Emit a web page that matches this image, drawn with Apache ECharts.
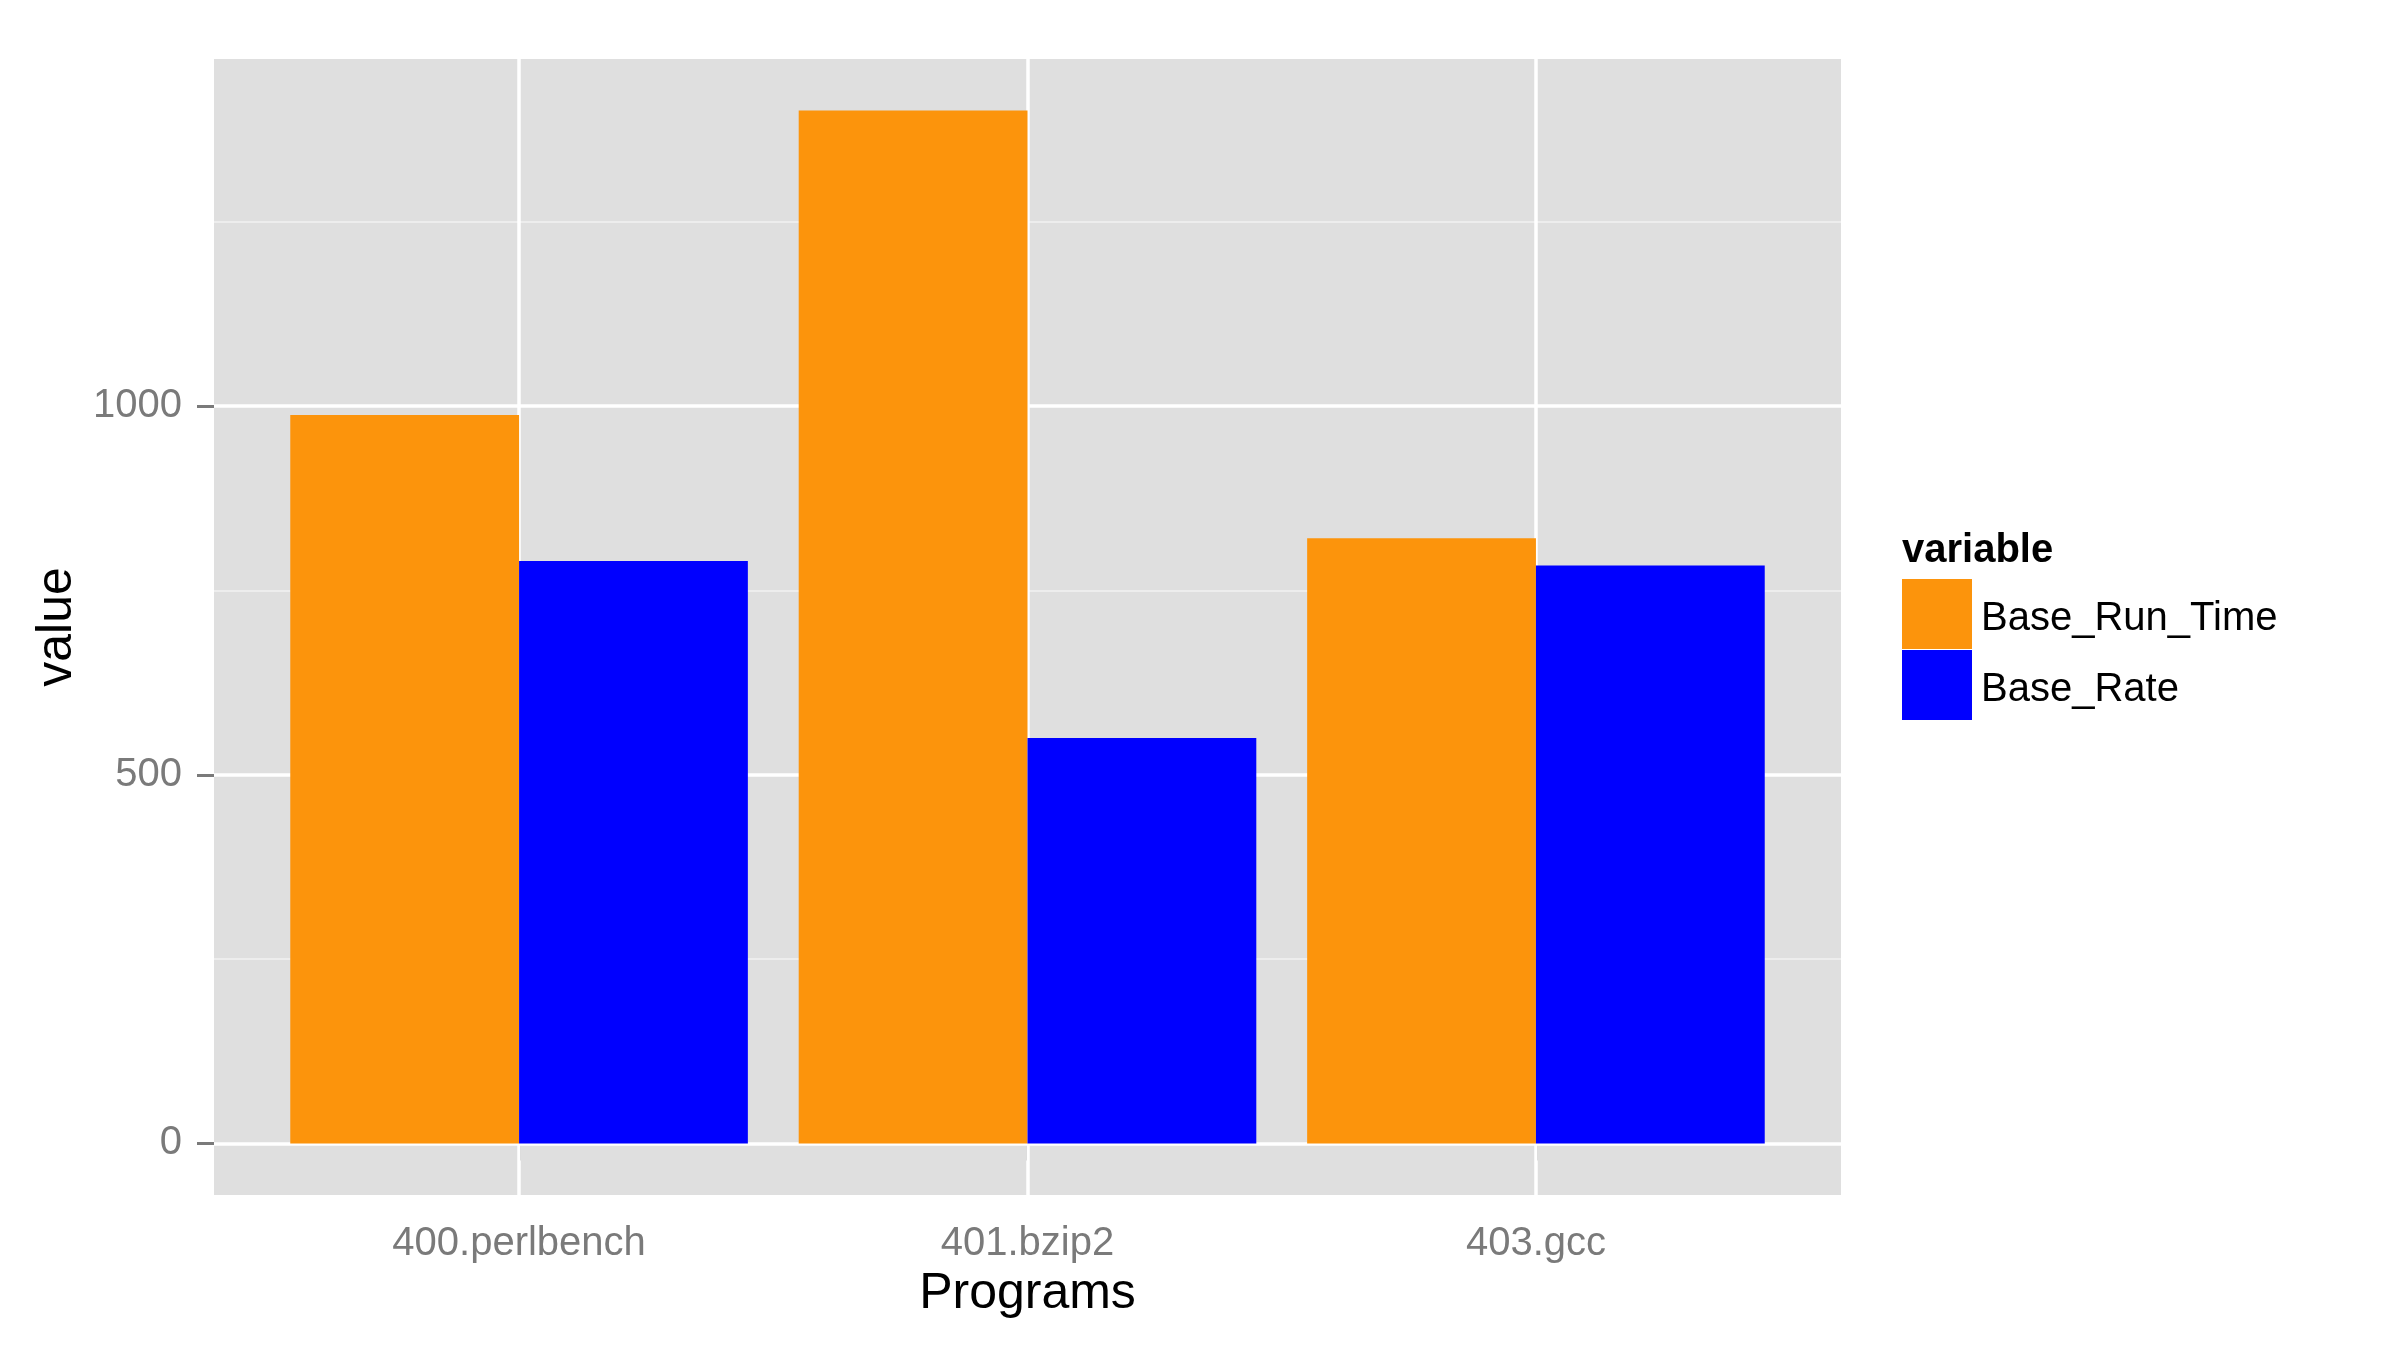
<!DOCTYPE html>
<html>
<head>
<meta charset="utf-8">
<script src="https://cdn.jsdelivr.net/npm/echarts@6/dist/echarts.min.js"></script>
<style>html,body{margin:0;padding:0;background:#fff}#c{width:2400px;height:1350px}</style>
</head>
<body>
<div id="c"></div>
<script>
const categories = ['400.perlbench', '401.bzip2', '403.gcc'];
const seriesNames = ['Base_Run_Time', 'Base_Rate'];
const baseRunTime = [988, 1401, 821];
const baseRate = [790, 550, 784];
const yTicks = [0, 500, 1000];
const yMinorTicks = [250, 750, 1250];

const catPos = categories.map((c, i) => i + 1);
const FONT = 'Liberation Sans';
const chart = echarts.init(document.getElementById('c'));

chart.setOption({
  backgroundColor: '#ffffff',
  animation: false,
  textStyle: { fontFamily: FONT },
  grid: {
    left: 214, top: 59, width: 1627, height: 1136,
    show: true, backgroundColor: '#DFDFDF', borderWidth: 0
  },
  xAxis: {
    type: 'value', min: 0.4, max: 3.6,
    name: 'Programs', nameLocation: 'middle', nameGap: 68,
    nameTextStyle: { fontSize: 50, color: '#000', fontFamily: FONT },
    axisLine: { show: false },
    splitLine: { show: false },
    axisTick: { show: true, customValues: catPos, length: 17, lineStyle: { color: '#7a7a7a', width: 3 } },
    axisLabel: {
      customValues: catPos, margin: 29, fontSize: 40, color: '#7a7a7a', fontFamily: FONT,
      formatter: v => categories[Math.round(v) - 1] || ''
    }
  },
  yAxis: {
    type: 'value', min: -70, max: 1471,
    name: 'value', nameLocation: 'middle', nameGap: 126, nameRotate: 90,
    nameTextStyle: { fontSize: 50, color: '#000', fontFamily: FONT },
    axisLine: { show: false },
    splitLine: { show: false },
    axisTick: { show: true, customValues: yTicks, length: 17, lineStyle: { color: '#7a7a7a', width: 3 } },
    axisLabel: {
      customValues: yTicks, margin: 32, fontSize: 40, color: '#7a7a7a', fontFamily: FONT,
      formatter: v => String(v)
    }
  },
  legend: {
    orient: 'vertical', left: 1902, top: 579, padding: 0,
    icon: 'rect', itemWidth: 70, itemHeight: 70, itemGap: 1,
    formatter: '{t|{name}}',
    textStyle: {
      fontSize: 40, color: '#000', fontFamily: FONT,
      rich: { t: { fontSize: 40, color: '#000', fontFamily: FONT, padding: [9, 0, 0, 4] } }
    },
    data: seriesNames
  },
  graphic: [{
    type: 'text', left: 1902, top: 531,
    style: { text: 'variable', font: 'bold 40px "Liberation Sans"', fill: '#000' }
  }],
  series: [
    {
      type: 'line', data: [], silent: true, z: 1,
      markLine: {
        silent: true, symbol: 'none', z: 1, animation: false,
        label: { show: false },
        data: [
          ...yMinorTicks.map(v => ({ yAxis: v, lineStyle: { color: '#F2F2F2', width: 1.5, type: 'solid' } })),
          ...yTicks.map(v => ({ yAxis: v, lineStyle: { color: '#FFFFFF', width: 3.5, type: 'solid' } })),
          ...catPos.map(v => ({ xAxis: v, lineStyle: { color: '#FFFFFF', width: 3.5, type: 'solid' } }))
        ]
      }
    },
    {
      name: seriesNames[0], type: 'bar', z: 2,
      barGap: '0%', barCategoryGap: '10%',
      itemStyle: { color: '#FC940C' },
      data: baseRunTime.map((v, i) => [catPos[i], v])
    },
    {
      name: seriesNames[1], type: 'bar', z: 2,
      barGap: '0%', barCategoryGap: '10%',
      itemStyle: { color: '#0000FF' },
      data: baseRate.map((v, i) => [catPos[i], v])
    }
  ]
});
</script>
</body>
</html>
